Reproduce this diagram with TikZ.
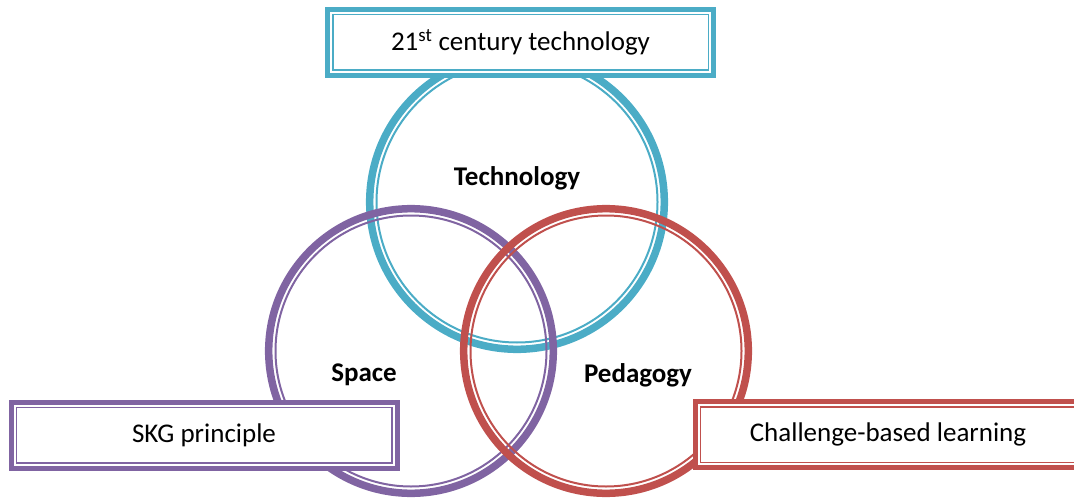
\documentclass[tikz,border=0pt]{standalone}
\usepackage{fontspec}
\setmainfont{Carlito}
\usetikzlibrary{positioning}
\definecolor{tealc}{HTML}{4BACC6}
\definecolor{purplec}{HTML}{8064A2}
\definecolor{redc}{HTML}{C0504D}
\begin{document}
\begin{tikzpicture}[x=1pt, y=-1pt, font=\fontsize{27}{32}\selectfont]
\tikzstyle{thick ring}=[line width=7.5pt]
\tikzstyle{thin ring}=[line width=2pt]
\tikzstyle{box}=[draw, line width=5pt, fill=white, minimum width=386pt, minimum height=66pt, inner sep=0pt, outer sep=0pt]
\tikzstyle{frame}=[line width=1.5pt]
\tikzstyle{label}=[font=\fontsize{27}{32}\selectfont\bfseries]
\useasboundingbox (0,0) rectangle (1074,503);
\clip (0,0) rectangle (1074,503);
\coordinate (ct) at (517,202);
\coordinate (cs) at (411,351);
\coordinate (cp) at (606,351);
% technology
\draw[tealc, thick ring] (ct) circle (147.3);
\draw[tealc, thin ring] (ct) circle (140.5);
\node[box, draw=tealc](techbox) at (520.5,42.5) {21\textsuperscript{st} century technology};
\draw[tealc, frame] ([xshift=5.25pt,yshift=-5.25pt]techbox.north west) rectangle ([xshift=-5.25pt,yshift=5.25pt]techbox.south east);
\node[label](tech) at (517,178) {Technology};
% space
\draw[purplec, thick ring] (cs) circle (142.3);
\draw[purplec, thin ring] (cs) circle (135.5);
\node[box, draw=purplec](spacebox) at (204,435) {SKG principle};
\draw[purplec, frame] ([xshift=5.25pt,yshift=-5.25pt]spacebox.north west) rectangle ([xshift=-5.25pt,yshift=5.25pt]spacebox.south east);
\node[label](space) at (364,375) {Space};
% pedagogy
\draw[redc, thick ring] (cp) circle (142.3);
\draw[redc, thin ring] (cp) circle (135.5);
\node[box, draw=redc](pedbox) at (888,434.5) {Challenge-based learning};
\draw[redc, frame] ([xshift=5.25pt,yshift=-5.25pt]pedbox.north west) rectangle ([xshift=-5.25pt,yshift=5.25pt]pedbox.south east);
\node[label](ped) at (638,375) {Pedagogy};
\end{tikzpicture}
\end{document}
